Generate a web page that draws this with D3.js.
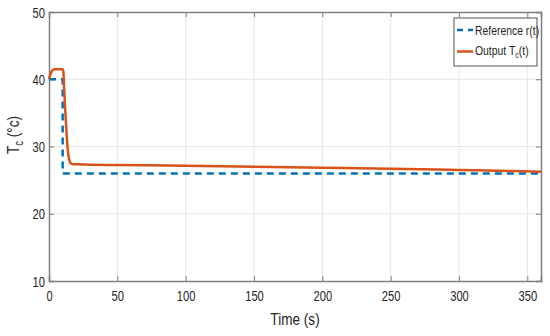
<!DOCTYPE html>
<html>
<head>
<meta charset="utf-8">
<script src="https://cdn.jsdelivr.net/npm/d3@7"></script>
<style>
  body { margin: 0; background: #fff; }
  text { font-family: "Liberation Sans", Arial, sans-serif; fill: #262626; }
</style>
</head>
<body>
<div id="chart"></div>
<script>
// Reference signal r(t)
const refTime = [0, 10, 10, 360];
const refTemp = [40, 40, 26, 26];

// Output T_c(t)
const outTime = [0, 1, 2, 3, 4, 6, 10, 10.5, 11, 12, 13, 14, 15, 16, 17, 18, 20, 30, 50, 100, 150, 200, 250, 300, 340, 360];
const outTemp = [40, 40.7, 41.2, 41.4, 41.5, 41.5, 41.5, 41.2, 39, 35, 31.5, 29, 27.9, 27.5, 27.4, 27.35, 27.35, 27.3, 27.25, 27.15, 27.0, 26.85, 26.7, 26.5, 26.35, 26.25];

const xTicks = [0, 50, 100, 150, 200, 250, 300, 350];
const yTicks = [10, 20, 30, 40, 50];

const margin = { top: 12, right: 9, bottom: 55, left: 49 };
const width = 550 - margin.left - margin.right;
const height = 336 - margin.top - margin.bottom;
const squeeze = 0.8; // the original font is narrow

const svg = d3.select('#chart')
    .append('svg')
    .attr('width', 550)
    .attr('height', 336);

const g = svg.append('g')
    .attr('transform', `translate(${margin.left}, ${margin.top})`);

const x = d3.scaleLinear().domain([0, 360]).range([0, width]);
const y = d3.scaleLinear().domain([10, 50]).range([height, 0]);

// grid
g.selectAll('.vgrid')
    .data(xTicks.slice(1))
    .join('line')
    .attr('x1', d => x(d)).attr('x2', d => x(d))
    .attr('y1', 0).attr('y2', height)
    .attr('stroke', '#e6e6e6').attr('stroke-width', 1);
g.selectAll('.hgrid')
    .data(yTicks.slice(1, -1))
    .join('line')
    .attr('x1', 0).attr('x2', width)
    .attr('y1', d => y(d)).attr('y2', d => y(d))
    .attr('stroke', '#e6e6e6').attr('stroke-width', 1);

// axes (ticks pointing inward)
const axisColor = '#7f7f7f';
const bottomAxis = g.append('g')
    .attr('transform', `translate(0, ${height})`)
    .call(d3.axisBottom(x).tickValues(xTicks).tickSize(-5).tickPadding(10));
const topAxis = g.append('g')
    .call(d3.axisTop(x).tickValues(xTicks).tickSize(-5).tickFormat(''));
const leftAxis = g.append('g')
    .call(d3.axisLeft(y).tickValues(yTicks).tickSize(-5).tickPadding(4));
const rightAxis = g.append('g')
    .attr('transform', `translate(${width}, 0)`)
    .call(d3.axisRight(y).tickValues(yTicks).tickSize(-5).tickFormat(''));

[bottomAxis, topAxis, leftAxis, rightAxis].forEach(a => {
    a.select('.domain').attr('stroke', axisColor).attr('stroke-width', 1.5);
    a.selectAll('.tick line').attr('stroke', axisColor).attr('stroke-width', 1);
    a.selectAll('text')
        .attr('font-size', 14)
        .style('font-family', '"Liberation Sans", Arial, sans-serif')
        .attr('fill', '#262626')
        .attr('transform', `scale(${squeeze},1)`);
});
leftAxis.selectAll('text').attr('x', -4 / squeeze).attr('dy', '0.36em');

// lines
const refData = refTime.map((t, i) => ({ t: t, v: refTemp[i] }));
const outData = outTime.map((t, i) => ({ t: t, v: outTemp[i] }));

const line = d3.line().x(d => x(d.t)).y(d => y(d.v));
const smooth = d3.line().x(d => x(d.t)).y(d => y(d.v)).curve(d3.curveMonotoneX);

g.append('path')
    .datum(refData)
    .attr('d', line)
    .attr('fill', 'none')
    .attr('stroke', '#0072BD')
    .attr('stroke-width', 2.5)
    .attr('stroke-dasharray', '7,5');

g.append('path')
    .datum(outData)
    .attr('d', smooth)
    .attr('fill', 'none')
    .attr('stroke', '#D95319')
    .attr('stroke-width', 2.5);

// axis names
svg.append('text')
    .attr('transform', `translate(${margin.left + width / 2}, 325) scale(${squeeze},1)`)
    .attr('text-anchor', 'middle')
    .attr('font-size', 17)
    .text('Time (s)');

const yl = svg.append('text')
    .attr('transform', `translate(19, 135) rotate(-90) scale(${squeeze},1)`)
    .attr('text-anchor', 'middle')
    .attr('font-size', 17);
yl.append('tspan').text('T');
yl.append('tspan').attr('font-size', 12).attr('dy', 4).text('c');
yl.append('tspan').attr('dy', -4).text(' (°c)');

// legend
const legend = svg.append('g').attr('transform', 'translate(454, 18)');
legend.append('rect')
    .attr('width', 83).attr('height', 48)
    .attr('fill', '#fff').attr('stroke', '#262626').attr('stroke-width', 0.8);
legend.append('line')
    .attr('x1', 3).attr('x2', 19).attr('y1', 12).attr('y2', 12)
    .attr('stroke', '#0072BD').attr('stroke-width', 2.5).attr('stroke-dasharray', '6,5');
legend.append('text')
    .attr('transform', `translate(21, 17) scale(${squeeze},1)`)
    .attr('font-size', 13)
    .text('Reference r(t)');
legend.append('line')
    .attr('x1', 3).attr('x2', 19).attr('y1', 33.5).attr('y2', 33.5)
    .attr('stroke', '#D95319').attr('stroke-width', 2.5);
const lt = legend.append('text')
    .attr('transform', `translate(21, 37) scale(${squeeze},1)`)
    .attr('font-size', 13);
lt.append('tspan').text('Output T');
lt.append('tspan').attr('font-size', 9).attr('dy', 3).text('c');
lt.append('tspan').attr('dy', -3).text('(t)');
</script>
</body>
</html>
